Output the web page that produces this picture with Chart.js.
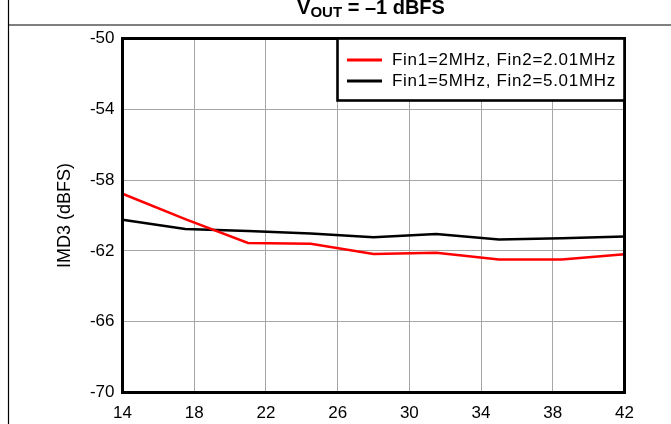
<!DOCTYPE html>
<html>
<head>
<meta charset="utf-8">
<script src="https://cdn.jsdelivr.net/npm/chart.js@4/dist/chart.umd.min.js"></script>
<style>
  html,body{margin:0;padding:0;background:#fff;}
  #wrap{width:671px;height:424px;position:relative;}
</style>
</head>
<body>
<div id="wrap"><canvas id="c" width="671" height="424"></canvas></div>
<script>
// sample points (input frequency axis)
const xVals   = [14, 17.5, 21, 24.5, 28, 31.5, 35, 38.5, 42];
const red2MHz = [-58.77, -60.2, -61.55, -61.6, -62.17, -62.11, -62.49, -62.49, -62.19];
const blk5MHz = [-60.24, -60.76, -60.88, -61.02, -61.23, -61.04, -61.36, -61.29, -61.18];

const seriesLabels = ['Fin1=2MHz, Fin2=2.01MHz', 'Fin1=5MHz, Fin2=5.01MHz'];
const seriesColors = ['#ff0000', '#000000'];

const xTicks = {min:14, max:42, step:4};
const yTicks = {min:-70, max:-50, step:4};
const yTitle = 'IMD3 (dBFS)';

const FONT = '"Liberation Sans", Arial, sans-serif';

function pts(ys){ return xVals.map((x,i)=>({x, y:ys[i]})); }

// white bg + outer frame + title (with subscript)
const framePlugin = {
  id:'frame',
  beforeDraw(chart){
    const c = chart.ctx;
    c.save();
    c.fillStyle = '#fff';
    c.fillRect(0,0,chart.width,chart.height);
    c.strokeStyle = '#000';
    c.lineWidth = 1.2;
    c.beginPath();
    c.moveTo(8.5,0); c.lineTo(8.5,chart.height);
    c.moveTo(8,25); c.lineTo(chart.width,25);
    c.stroke();

    // title: V_OUT = –1 dBFS
    const main = 'bold 20px ' + FONT, sub = 'bold 15px ' + FONT;
    c.font = main; const wV = c.measureText('V').width;
    const rest = ' = \u20131 dBFS'; const wR = c.measureText(rest).width;
    c.font = sub; const wS = c.measureText('OUT').width;
    let x = 371 - (wV + wS + wR)/2;
    c.fillStyle = '#000';
    c.textBaseline = 'alphabetic';
    c.textAlign = 'left';
    c.font = main; c.fillText('V', x, 13.5); x += wV;
    c.font = sub;  c.fillText('OUT', x, 17); x += wS;
    c.font = main; c.fillText(rest, x, 13.5);
    c.restore();
  },
  afterDatasetsDraw(chart){
    const a = chart.chartArea, c = chart.ctx;
    c.save();
    c.strokeStyle = '#000';
    c.lineWidth = 3;
    c.strokeRect(a.left, a.top, a.right-a.left, a.bottom-a.top);

    // legend box in the top right corner of the plot
    const bw = 287, bh = 62;
    const bx = a.right - bw, by = a.top;
    c.fillStyle = '#fff';
    c.fillRect(bx, by, bw, bh);
    c.lineWidth = 2.6;
    c.strokeRect(bx, by, bw, bh);
    c.font = '17px ' + FONT;
    if('letterSpacing' in c) c.letterSpacing = '0.7px';
    c.textBaseline = 'middle';
    c.textAlign = 'left';
    chart.data.datasets.forEach((ds,i)=>{
      const y = by + 21.5 + i*21;
      c.strokeStyle = ds.borderColor;
      c.lineWidth = 3;
      c.beginPath();
      c.moveTo(bx+9.5, y); c.lineTo(bx+44.5, y);
      c.stroke();
      c.fillStyle = '#000';
      c.fillText(ds.label, bx+54.5, y);
    });
    c.restore();
  }
};

new Chart(document.getElementById('c'), {
  type:'line',
  data:{
    datasets:[
      {label:seriesLabels[0], data:pts(red2MHz), borderColor:seriesColors[0], borderWidth:2.5, pointRadius:0, tension:0},
      {label:seriesLabels[1], data:pts(blk5MHz), borderColor:seriesColors[1], borderWidth:2.5, pointRadius:0, tension:0}
    ]
  },
  options:{
    responsive:false,
    animation:false,
    devicePixelRatio:1,
    layout:{padding:{left:53, top:38.5, right:46.5, bottom:0}},
    plugins:{legend:{display:false}, tooltip:{enabled:false}, title:{display:false}},
    scales:{
      x:{
        type:'linear',
        min:xTicks.min, max:xTicks.max,
        afterFit(s){ s.height = 31.5; },
        grid:{color:'#a6a6a6', lineWidth:1, drawTicks:false},
        border:{display:false},
        ticks:{stepSize:xTicks.step, color:'#000', padding:11, font:{family:FONT, size:17}, maxRotation:0}
      },
      y:{
        type:'linear',
        min:yTicks.min, max:yTicks.max,
        afterFit(s){ s.width = 69.5; },
        grid:{color:'#a6a6a6', lineWidth:1, drawTicks:false},
        border:{display:false},
        ticks:{stepSize:yTicks.step, color:'#000', padding:8, font:{family:FONT, size:17}},
        title:{display:true, text:yTitle, color:'#000', padding:{top:1, bottom:0}, font:{family:FONT, size:18}}
      }
    }
  },
  plugins:[framePlugin]
});
</script>
</body>
</html>
